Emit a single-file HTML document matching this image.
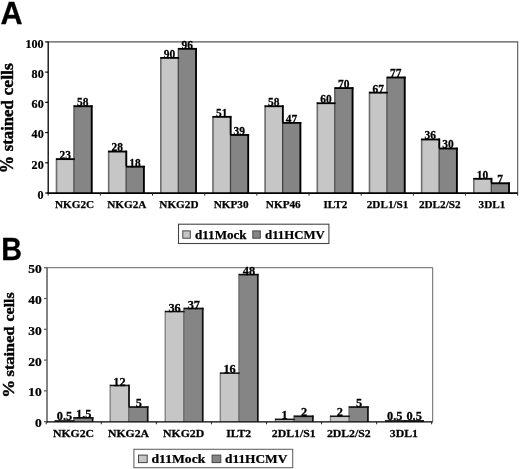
<!DOCTYPE html>
<html><head><meta charset="utf-8"><title>Figure</title>
<style>
html,body{margin:0;padding:0;background:#fff;}
svg{display:block;}
svg text{font-family:"Liberation Serif",serif;font-weight:bold;fill:#000;stroke:#000;stroke-width:0.25px;}
</style></head><body>
<svg width="520" height="469" viewBox="0 0 520 469">
<rect width="520" height="469" fill="#fff"/>
<text transform="translate(0.5,24.0) scale(1.02,1.036)" style="font-family:'Liberation Sans',sans-serif" font-size="30">A</text>
<text transform="translate(1.3,259.95) scale(0.96,1.04)" style="font-family:'Liberation Sans',sans-serif" font-size="30">B</text>
<text transform="translate(13.3,164.5) rotate(-90) scale(1.0,1.06)" font-size="17.3" text-anchor="middle" style="stroke-width:0.45px">%</text>
<text transform="translate(13.3,125.7) rotate(-90) scale(0.964,1.0)" font-size="17.3" text-anchor="middle" style="stroke-width:0.45px">stained</text>
<text transform="translate(13.3,79.35) rotate(-90) scale(1.02,1.0)" font-size="17.3" text-anchor="middle" style="stroke-width:0.45px">cells</text>
<text transform="translate(14.3,388.85) rotate(-90) scale(1.04,1.0)" font-size="17.3" text-anchor="middle" style="stroke-width:0.45px">%</text>
<text transform="translate(14.3,351.45) rotate(-90) scale(0.946,0.9)" font-size="17.3" text-anchor="middle" style="stroke-width:0.45px">stained</text>
<text transform="translate(14.3,306.9) rotate(-90) scale(0.92,0.9)" font-size="17.3" text-anchor="middle" style="stroke-width:0.45px">cells</text>
<path d="M48.2,41.9 H517.7 V193.0" fill="none" stroke="#555" stroke-width="1.1"/>
<rect x="55.98" y="158.25" width="18.30" height="34.75" fill="#c6c6c6"/>
<rect x="74.28" y="105.36" width="18.30" height="87.64" fill="#858585"/>
<path d="M56.48,193.0 V158.25" stroke="#6e6e6e" stroke-width="1.6" fill="none"/>
<path d="M73.98,193.0 V105.36" stroke="#444" stroke-width="1.3" fill="none"/>
<path d="M55.98,159.15 H74.78" stroke="#000" stroke-width="1.8" fill="none"/>
<path d="M73.78,106.26 H92.58" stroke="#000" stroke-width="1.8" fill="none"/>
<path d="M91.68,105.36 V193.0" stroke="#000" stroke-width="1.8" fill="none"/>
<text transform="translate(65.13,159.05) scale(1.04,1.12)" font-size="11" text-anchor="middle">23</text>
<text transform="translate(82.83,106.16) scale(1.04,1.12)" font-size="11" text-anchor="middle">58</text>
<text transform="translate(74.58,208.20) scale(1,1)" font-size="11.2" text-anchor="middle">NKG2C</text>
<rect x="108.15" y="150.69" width="18.30" height="42.31" fill="#c6c6c6"/>
<rect x="126.45" y="165.80" width="18.30" height="27.20" fill="#858585"/>
<path d="M108.65,193.0 V150.69" stroke="#6e6e6e" stroke-width="1.6" fill="none"/>
<path d="M126.15,193.0 V150.69" stroke="#444" stroke-width="1.3" fill="none"/>
<path d="M108.15,151.59 H126.95" stroke="#000" stroke-width="1.8" fill="none"/>
<path d="M125.95,166.70 H144.75" stroke="#000" stroke-width="1.8" fill="none"/>
<path d="M143.85,165.80 V193.0" stroke="#000" stroke-width="1.8" fill="none"/>
<path d="M126.35,150.69 V166.30" stroke="#000" stroke-width="1.8" fill="none"/>
<text transform="translate(117.30,151.49) scale(1.04,1.12)" font-size="11" text-anchor="middle">28</text>
<text transform="translate(135.00,166.60) scale(1.04,1.12)" font-size="11" text-anchor="middle">18</text>
<text transform="translate(126.75,208.20) scale(1,1)" font-size="11.2" text-anchor="middle">NKG2A</text>
<rect x="160.32" y="57.01" width="18.30" height="135.99" fill="#c6c6c6"/>
<rect x="178.62" y="47.94" width="18.30" height="145.06" fill="#858585"/>
<path d="M160.82,193.0 V57.01" stroke="#6e6e6e" stroke-width="1.6" fill="none"/>
<path d="M178.32,193.0 V47.94" stroke="#444" stroke-width="1.3" fill="none"/>
<path d="M160.32,57.91 H179.12" stroke="#000" stroke-width="1.8" fill="none"/>
<path d="M178.12,48.84 H196.92" stroke="#000" stroke-width="1.8" fill="none"/>
<path d="M196.02,47.94 V193.0" stroke="#000" stroke-width="1.8" fill="none"/>
<text transform="translate(169.47,57.81) scale(1.04,1.12)" font-size="11" text-anchor="middle">90</text>
<text transform="translate(187.17,48.74) scale(1.04,1.12)" font-size="11" text-anchor="middle">96</text>
<text transform="translate(178.92,208.20) scale(1,1)" font-size="11.2" text-anchor="middle">NKG2D</text>
<rect x="212.48" y="115.94" width="18.30" height="77.06" fill="#c6c6c6"/>
<rect x="230.78" y="134.07" width="18.30" height="58.93" fill="#858585"/>
<path d="M212.98,193.0 V115.94" stroke="#6e6e6e" stroke-width="1.6" fill="none"/>
<path d="M230.48,193.0 V115.94" stroke="#444" stroke-width="1.3" fill="none"/>
<path d="M212.48,116.84 H231.28" stroke="#000" stroke-width="1.8" fill="none"/>
<path d="M230.28,134.97 H249.08" stroke="#000" stroke-width="1.8" fill="none"/>
<path d="M248.18,134.07 V193.0" stroke="#000" stroke-width="1.8" fill="none"/>
<path d="M230.68,115.94 V134.57" stroke="#000" stroke-width="1.8" fill="none"/>
<text transform="translate(221.63,116.74) scale(1.04,1.12)" font-size="11" text-anchor="middle">51</text>
<text transform="translate(239.33,134.87) scale(1.04,1.12)" font-size="11" text-anchor="middle">39</text>
<text transform="translate(231.08,208.20) scale(1,1)" font-size="11.2" text-anchor="middle">NKP30</text>
<rect x="264.65" y="105.36" width="18.30" height="87.64" fill="#c6c6c6"/>
<rect x="282.95" y="121.98" width="18.30" height="71.02" fill="#858585"/>
<path d="M265.15,193.0 V105.36" stroke="#6e6e6e" stroke-width="1.6" fill="none"/>
<path d="M282.65,193.0 V105.36" stroke="#444" stroke-width="1.3" fill="none"/>
<path d="M264.65,106.26 H283.45" stroke="#000" stroke-width="1.8" fill="none"/>
<path d="M282.45,122.88 H301.25" stroke="#000" stroke-width="1.8" fill="none"/>
<path d="M300.35,121.98 V193.0" stroke="#000" stroke-width="1.8" fill="none"/>
<path d="M282.85,105.36 V122.48" stroke="#000" stroke-width="1.8" fill="none"/>
<text transform="translate(273.80,106.16) scale(1.04,1.12)" font-size="11" text-anchor="middle">58</text>
<text transform="translate(291.50,122.78) scale(1.04,1.12)" font-size="11" text-anchor="middle">47</text>
<text transform="translate(283.25,208.20) scale(1,1)" font-size="11.2" text-anchor="middle">NKP46</text>
<rect x="316.82" y="102.34" width="18.30" height="90.66" fill="#c6c6c6"/>
<rect x="335.12" y="87.23" width="18.30" height="105.77" fill="#858585"/>
<path d="M317.32,193.0 V102.34" stroke="#6e6e6e" stroke-width="1.6" fill="none"/>
<path d="M334.82,193.0 V87.23" stroke="#444" stroke-width="1.3" fill="none"/>
<path d="M316.82,103.24 H335.62" stroke="#000" stroke-width="1.8" fill="none"/>
<path d="M334.62,88.13 H353.42" stroke="#000" stroke-width="1.8" fill="none"/>
<path d="M352.52,87.23 V193.0" stroke="#000" stroke-width="1.8" fill="none"/>
<text transform="translate(325.97,103.14) scale(1.04,1.12)" font-size="11" text-anchor="middle">60</text>
<text transform="translate(343.67,88.03) scale(1.04,1.12)" font-size="11" text-anchor="middle">70</text>
<text transform="translate(335.42,208.20) scale(1,1)" font-size="11.2" text-anchor="middle">ILT2</text>
<rect x="368.98" y="91.76" width="18.30" height="101.24" fill="#c6c6c6"/>
<rect x="387.28" y="76.65" width="18.30" height="116.35" fill="#858585"/>
<path d="M369.48,193.0 V91.76" stroke="#6e6e6e" stroke-width="1.6" fill="none"/>
<path d="M386.98,193.0 V76.65" stroke="#444" stroke-width="1.3" fill="none"/>
<path d="M368.98,92.66 H387.78" stroke="#000" stroke-width="1.8" fill="none"/>
<path d="M386.78,77.55 H405.58" stroke="#000" stroke-width="1.8" fill="none"/>
<path d="M404.68,76.65 V193.0" stroke="#000" stroke-width="1.8" fill="none"/>
<text transform="translate(378.13,92.56) scale(1.04,1.12)" font-size="11" text-anchor="middle">67</text>
<text transform="translate(395.83,77.45) scale(1.04,1.12)" font-size="11" text-anchor="middle">77</text>
<text transform="translate(387.58,208.20) scale(1,1)" font-size="11.2" text-anchor="middle">2DL1/S1</text>
<rect x="421.15" y="138.60" width="18.30" height="54.40" fill="#c6c6c6"/>
<rect x="439.45" y="147.67" width="18.30" height="45.33" fill="#858585"/>
<path d="M421.65,193.0 V138.60" stroke="#6e6e6e" stroke-width="1.6" fill="none"/>
<path d="M439.15,193.0 V138.60" stroke="#444" stroke-width="1.3" fill="none"/>
<path d="M421.15,139.50 H439.95" stroke="#000" stroke-width="1.8" fill="none"/>
<path d="M438.95,148.57 H457.75" stroke="#000" stroke-width="1.8" fill="none"/>
<path d="M456.85,147.67 V193.0" stroke="#000" stroke-width="1.8" fill="none"/>
<path d="M439.35,138.60 V148.17" stroke="#000" stroke-width="1.8" fill="none"/>
<text transform="translate(430.30,139.40) scale(1.04,1.12)" font-size="11" text-anchor="middle">36</text>
<text transform="translate(448.00,148.47) scale(1.04,1.12)" font-size="11" text-anchor="middle">30</text>
<text transform="translate(439.75,208.20) scale(1,1)" font-size="11.2" text-anchor="middle">2DL2/S2</text>
<rect x="473.32" y="177.89" width="18.30" height="15.11" fill="#c6c6c6"/>
<rect x="491.62" y="182.42" width="18.30" height="10.58" fill="#858585"/>
<path d="M473.82,193.0 V177.89" stroke="#6e6e6e" stroke-width="1.6" fill="none"/>
<path d="M491.32,193.0 V177.89" stroke="#444" stroke-width="1.3" fill="none"/>
<path d="M473.32,178.79 H492.12" stroke="#000" stroke-width="1.8" fill="none"/>
<path d="M491.12,183.32 H509.92" stroke="#000" stroke-width="1.8" fill="none"/>
<path d="M509.02,182.42 V193.0" stroke="#000" stroke-width="1.8" fill="none"/>
<path d="M491.52,177.89 V182.92" stroke="#000" stroke-width="1.8" fill="none"/>
<text transform="translate(482.47,178.69) scale(1.04,1.12)" font-size="11" text-anchor="middle">10</text>
<text transform="translate(500.17,183.22) scale(1.04,1.12)" font-size="11" text-anchor="middle">7</text>
<text transform="translate(491.92,208.20) scale(1,1)" font-size="11.2" text-anchor="middle">3DL1</text>
<path d="M48.2,41.4 V194.0" stroke="#000" stroke-width="1.3" fill="none"/>
<path d="M47.6,193.2 H517.7" stroke="#000" stroke-width="1.8" fill="none"/>
<path d="M48.20,193.0 v2.6" stroke="#222" stroke-width="1" fill="none"/>
<path d="M100.37,193.0 v2.6" stroke="#222" stroke-width="1" fill="none"/>
<path d="M152.53,193.0 v2.6" stroke="#222" stroke-width="1" fill="none"/>
<path d="M204.70,193.0 v2.6" stroke="#222" stroke-width="1" fill="none"/>
<path d="M256.87,193.0 v2.6" stroke="#222" stroke-width="1" fill="none"/>
<path d="M309.03,193.0 v2.6" stroke="#222" stroke-width="1" fill="none"/>
<path d="M361.20,193.0 v2.6" stroke="#222" stroke-width="1" fill="none"/>
<path d="M413.37,193.0 v2.6" stroke="#222" stroke-width="1" fill="none"/>
<path d="M465.53,193.0 v2.6" stroke="#222" stroke-width="1" fill="none"/>
<path d="M517.70,193.0 v2.6" stroke="#222" stroke-width="1" fill="none"/>
<path d="M45.2,193.00 H48.2" stroke="#000" stroke-width="1.2" fill="none"/>
<text transform="translate(43.70,198.80) scale(0.9,0.96)" font-size="13.5" text-anchor="end">0</text>
<path d="M45.2,162.78 H48.2" stroke="#000" stroke-width="1.2" fill="none"/>
<text transform="translate(43.70,168.58) scale(0.9,0.96)" font-size="13.5" text-anchor="end">20</text>
<path d="M45.2,132.56 H48.2" stroke="#000" stroke-width="1.2" fill="none"/>
<text transform="translate(43.70,138.36) scale(0.9,0.96)" font-size="13.5" text-anchor="end">40</text>
<path d="M45.2,102.34 H48.2" stroke="#000" stroke-width="1.2" fill="none"/>
<text transform="translate(43.70,108.14) scale(0.9,0.96)" font-size="13.5" text-anchor="end">60</text>
<path d="M45.2,72.12 H48.2" stroke="#000" stroke-width="1.2" fill="none"/>
<text transform="translate(43.70,77.92) scale(0.9,0.96)" font-size="13.5" text-anchor="end">80</text>
<path d="M45.2,41.90 H48.2" stroke="#000" stroke-width="1.2" fill="none"/>
<text transform="translate(43.70,47.70) scale(0.9,0.96)" font-size="13.5" text-anchor="end">100</text>
<rect x="178.5" y="224.2" width="150.4" height="19.3" fill="#fff" stroke="#444" stroke-width="1.1"/>
<rect x="182.8" y="230.9" width="7.5" height="7.3" fill="#c6c6c6" stroke="#444" stroke-width="1"/>
<rect x="252.8" y="230.9" width="7.5" height="7.3" fill="#858585" stroke="#444" stroke-width="1"/>
<text transform="translate(195.00,238.90) scale(1,1)" font-size="13.1" text-anchor="start">d11Mock</text>
<text transform="translate(265.00,238.90) scale(0.98,1)" font-size="13.1" text-anchor="start">d11HCMV</text>
<path d="M47.0,267.7 H432.7 V421.7" fill="none" stroke="#666" stroke-width="1"/>
<rect x="54.78" y="420.16" width="19.30" height="1.54" fill="#c6c6c6"/>
<rect x="74.08" y="417.08" width="19.30" height="4.62" fill="#858585"/>
<path d="M55.13,421.7 V420.16" stroke="#808080" stroke-width="1.3" fill="none"/>
<path d="M73.78,421.7 V417.08" stroke="#4a4a4a" stroke-width="1.1" fill="none"/>
<path d="M54.78,420.91 H74.58" stroke="#151515" stroke-width="1.5" fill="none"/>
<path d="M73.58,417.88 H93.38" stroke="#111" stroke-width="1.6" fill="none"/>
<path d="M92.58,417.08 V421.7" stroke="#111" stroke-width="1.6" fill="none"/>
<text transform="translate(64.43,420.16) scale(1.12,1.12)" font-size="11" text-anchor="middle">0.5</text>
<text transform="translate(83.73,417.98) scale(1.12,1.12)" font-size="11" text-anchor="middle">1.5</text>
<text transform="translate(73.48,436.50) scale(1.07,1)" font-size="11" text-anchor="middle">NKG2C</text>
<rect x="109.84" y="384.74" width="19.30" height="36.96" fill="#c6c6c6"/>
<rect x="129.14" y="406.30" width="19.30" height="15.40" fill="#858585"/>
<path d="M110.19,421.7 V384.74" stroke="#808080" stroke-width="1.3" fill="none"/>
<path d="M128.84,421.7 V384.74" stroke="#4a4a4a" stroke-width="1.1" fill="none"/>
<path d="M109.84,385.49 H129.64" stroke="#151515" stroke-width="1.5" fill="none"/>
<path d="M128.64,407.10 H148.44" stroke="#111" stroke-width="1.6" fill="none"/>
<path d="M147.64,406.30 V421.7" stroke="#111" stroke-width="1.6" fill="none"/>
<path d="M129.04,384.74 V406.80" stroke="#111" stroke-width="1.6" fill="none"/>
<text transform="translate(119.49,385.64) scale(1.12,1.12)" font-size="11" text-anchor="middle">12</text>
<text transform="translate(138.79,407.20) scale(1.12,1.12)" font-size="11" text-anchor="middle">5</text>
<text transform="translate(128.54,436.50) scale(1.07,1)" font-size="11" text-anchor="middle">NKG2A</text>
<rect x="164.90" y="310.82" width="19.30" height="110.88" fill="#c6c6c6"/>
<rect x="184.20" y="307.74" width="19.30" height="113.96" fill="#858585"/>
<path d="M165.25,421.7 V310.82" stroke="#808080" stroke-width="1.3" fill="none"/>
<path d="M183.90,421.7 V307.74" stroke="#4a4a4a" stroke-width="1.1" fill="none"/>
<path d="M164.90,311.57 H184.70" stroke="#151515" stroke-width="1.5" fill="none"/>
<path d="M183.70,308.54 H203.50" stroke="#111" stroke-width="1.6" fill="none"/>
<path d="M202.70,307.74 V421.7" stroke="#111" stroke-width="1.6" fill="none"/>
<text transform="translate(174.55,311.72) scale(1.12,1.12)" font-size="11" text-anchor="middle">36</text>
<text transform="translate(193.85,308.64) scale(1.12,1.12)" font-size="11" text-anchor="middle">37</text>
<text transform="translate(183.60,436.50) scale(1.07,1)" font-size="11" text-anchor="middle">NKG2D</text>
<rect x="219.96" y="372.42" width="19.30" height="49.28" fill="#c6c6c6"/>
<rect x="239.26" y="273.86" width="19.30" height="147.84" fill="#858585"/>
<path d="M220.31,421.7 V372.42" stroke="#808080" stroke-width="1.3" fill="none"/>
<path d="M238.96,421.7 V273.86" stroke="#4a4a4a" stroke-width="1.1" fill="none"/>
<path d="M219.96,373.17 H239.76" stroke="#151515" stroke-width="1.5" fill="none"/>
<path d="M238.76,274.66 H258.56" stroke="#111" stroke-width="1.6" fill="none"/>
<path d="M257.76,273.86 V421.7" stroke="#111" stroke-width="1.6" fill="none"/>
<text transform="translate(229.61,373.32) scale(1.12,1.12)" font-size="11" text-anchor="middle">16</text>
<text transform="translate(248.91,274.76) scale(1.12,1.12)" font-size="11" text-anchor="middle">48</text>
<text transform="translate(238.66,436.50) scale(1.07,1)" font-size="11" text-anchor="middle">ILT2</text>
<rect x="275.02" y="418.62" width="19.30" height="3.08" fill="#c6c6c6"/>
<rect x="294.32" y="415.54" width="19.30" height="6.16" fill="#858585"/>
<path d="M275.37,421.7 V418.62" stroke="#808080" stroke-width="1.3" fill="none"/>
<path d="M294.02,421.7 V415.54" stroke="#4a4a4a" stroke-width="1.1" fill="none"/>
<path d="M275.02,419.37 H294.82" stroke="#151515" stroke-width="1.5" fill="none"/>
<path d="M293.82,416.34 H313.62" stroke="#111" stroke-width="1.6" fill="none"/>
<path d="M312.82,415.54 V421.7" stroke="#111" stroke-width="1.6" fill="none"/>
<text transform="translate(284.67,418.62) scale(1.12,1.12)" font-size="11" text-anchor="middle">1</text>
<text transform="translate(303.97,416.44) scale(1.12,1.12)" font-size="11" text-anchor="middle">2</text>
<text transform="translate(293.72,436.50) scale(1.07,1)" font-size="11" text-anchor="middle">2DL1/S1</text>
<rect x="330.08" y="415.54" width="19.30" height="6.16" fill="#c6c6c6"/>
<rect x="349.38" y="406.30" width="19.30" height="15.40" fill="#858585"/>
<path d="M330.43,421.7 V415.54" stroke="#808080" stroke-width="1.3" fill="none"/>
<path d="M349.08,421.7 V406.30" stroke="#4a4a4a" stroke-width="1.1" fill="none"/>
<path d="M330.08,416.29 H349.88" stroke="#151515" stroke-width="1.5" fill="none"/>
<path d="M348.88,407.10 H368.68" stroke="#111" stroke-width="1.6" fill="none"/>
<path d="M367.88,406.30 V421.7" stroke="#111" stroke-width="1.6" fill="none"/>
<text transform="translate(339.73,416.44) scale(1.12,1.12)" font-size="11" text-anchor="middle">2</text>
<text transform="translate(359.03,407.20) scale(1.12,1.12)" font-size="11" text-anchor="middle">5</text>
<text transform="translate(348.78,436.50) scale(1.07,1)" font-size="11" text-anchor="middle">2DL2/S2</text>
<rect x="385.14" y="420.16" width="19.30" height="1.54" fill="#c6c6c6"/>
<rect x="404.44" y="420.16" width="19.30" height="1.54" fill="#858585"/>
<path d="M385.49,421.7 V420.16" stroke="#808080" stroke-width="1.3" fill="none"/>
<path d="M404.14,421.7 V420.16" stroke="#4a4a4a" stroke-width="1.1" fill="none"/>
<path d="M385.14,420.91 H404.94" stroke="#151515" stroke-width="1.5" fill="none"/>
<path d="M403.94,420.96 H423.74" stroke="#111" stroke-width="1.6" fill="none"/>
<path d="M422.94,420.16 V421.7" stroke="#111" stroke-width="1.6" fill="none"/>
<text transform="translate(394.79,420.16) scale(1.12,1.12)" font-size="11" text-anchor="middle">0.5</text>
<text transform="translate(414.09,420.16) scale(1.12,1.12)" font-size="11" text-anchor="middle">0.5</text>
<text transform="translate(403.84,436.50) scale(1.07,1)" font-size="11" text-anchor="middle">3DL1</text>
<path d="M47.0,267.2 V422.7" stroke="#5a5a5a" stroke-width="1.5" fill="none"/>
<path d="M46.4,421.9 H432.7" stroke="#000" stroke-width="1.3" fill="none"/>
<path d="M46.25,421.7 v2.6" stroke="#222" stroke-width="1" fill="none"/>
<path d="M101.31,421.7 v2.6" stroke="#222" stroke-width="1" fill="none"/>
<path d="M156.37,421.7 v2.6" stroke="#222" stroke-width="1" fill="none"/>
<path d="M211.43,421.7 v2.6" stroke="#222" stroke-width="1" fill="none"/>
<path d="M266.49,421.7 v2.6" stroke="#222" stroke-width="1" fill="none"/>
<path d="M321.55,421.7 v2.6" stroke="#222" stroke-width="1" fill="none"/>
<path d="M376.61,421.7 v2.6" stroke="#222" stroke-width="1" fill="none"/>
<path d="M431.67,421.7 v2.6" stroke="#222" stroke-width="1" fill="none"/>
<path d="M44.0,421.70 H47.0" stroke="#5a5a5a" stroke-width="1.2" fill="none"/>
<text transform="translate(41.80,427.10) scale(1,0.94)" font-size="13.5" text-anchor="end">0</text>
<path d="M44.0,390.90 H47.0" stroke="#5a5a5a" stroke-width="1.2" fill="none"/>
<text transform="translate(41.80,396.30) scale(1,0.94)" font-size="13.5" text-anchor="end">10</text>
<path d="M44.0,360.10 H47.0" stroke="#5a5a5a" stroke-width="1.2" fill="none"/>
<text transform="translate(41.80,365.50) scale(1,0.94)" font-size="13.5" text-anchor="end">20</text>
<path d="M44.0,329.30 H47.0" stroke="#5a5a5a" stroke-width="1.2" fill="none"/>
<text transform="translate(41.80,334.70) scale(1,0.94)" font-size="13.5" text-anchor="end">30</text>
<path d="M44.0,298.50 H47.0" stroke="#5a5a5a" stroke-width="1.2" fill="none"/>
<text transform="translate(41.80,303.90) scale(1,0.94)" font-size="13.5" text-anchor="end">40</text>
<path d="M44.0,267.70 H47.0" stroke="#5a5a5a" stroke-width="1.2" fill="none"/>
<text transform="translate(41.80,273.10) scale(1,0.94)" font-size="13.5" text-anchor="end">50</text>
<rect x="133.9" y="449.3" width="158.8" height="18.4" fill="#fff" stroke="#666" stroke-width="1.1"/>
<rect x="138.5" y="455.1" width="8.7" height="7.5" fill="#c6c6c6" stroke="#444" stroke-width="1"/>
<rect x="212.1" y="455.1" width="8.7" height="7.5" fill="#858585" stroke="#444" stroke-width="1"/>
<text transform="translate(151.50,463.30) scale(1.065,1)" font-size="12.8" text-anchor="start">d11Mock</text>
<text transform="translate(225.00,463.30) scale(1.045,1)" font-size="12.8" text-anchor="start">d11HCMV</text>
</svg>
</body></html>
